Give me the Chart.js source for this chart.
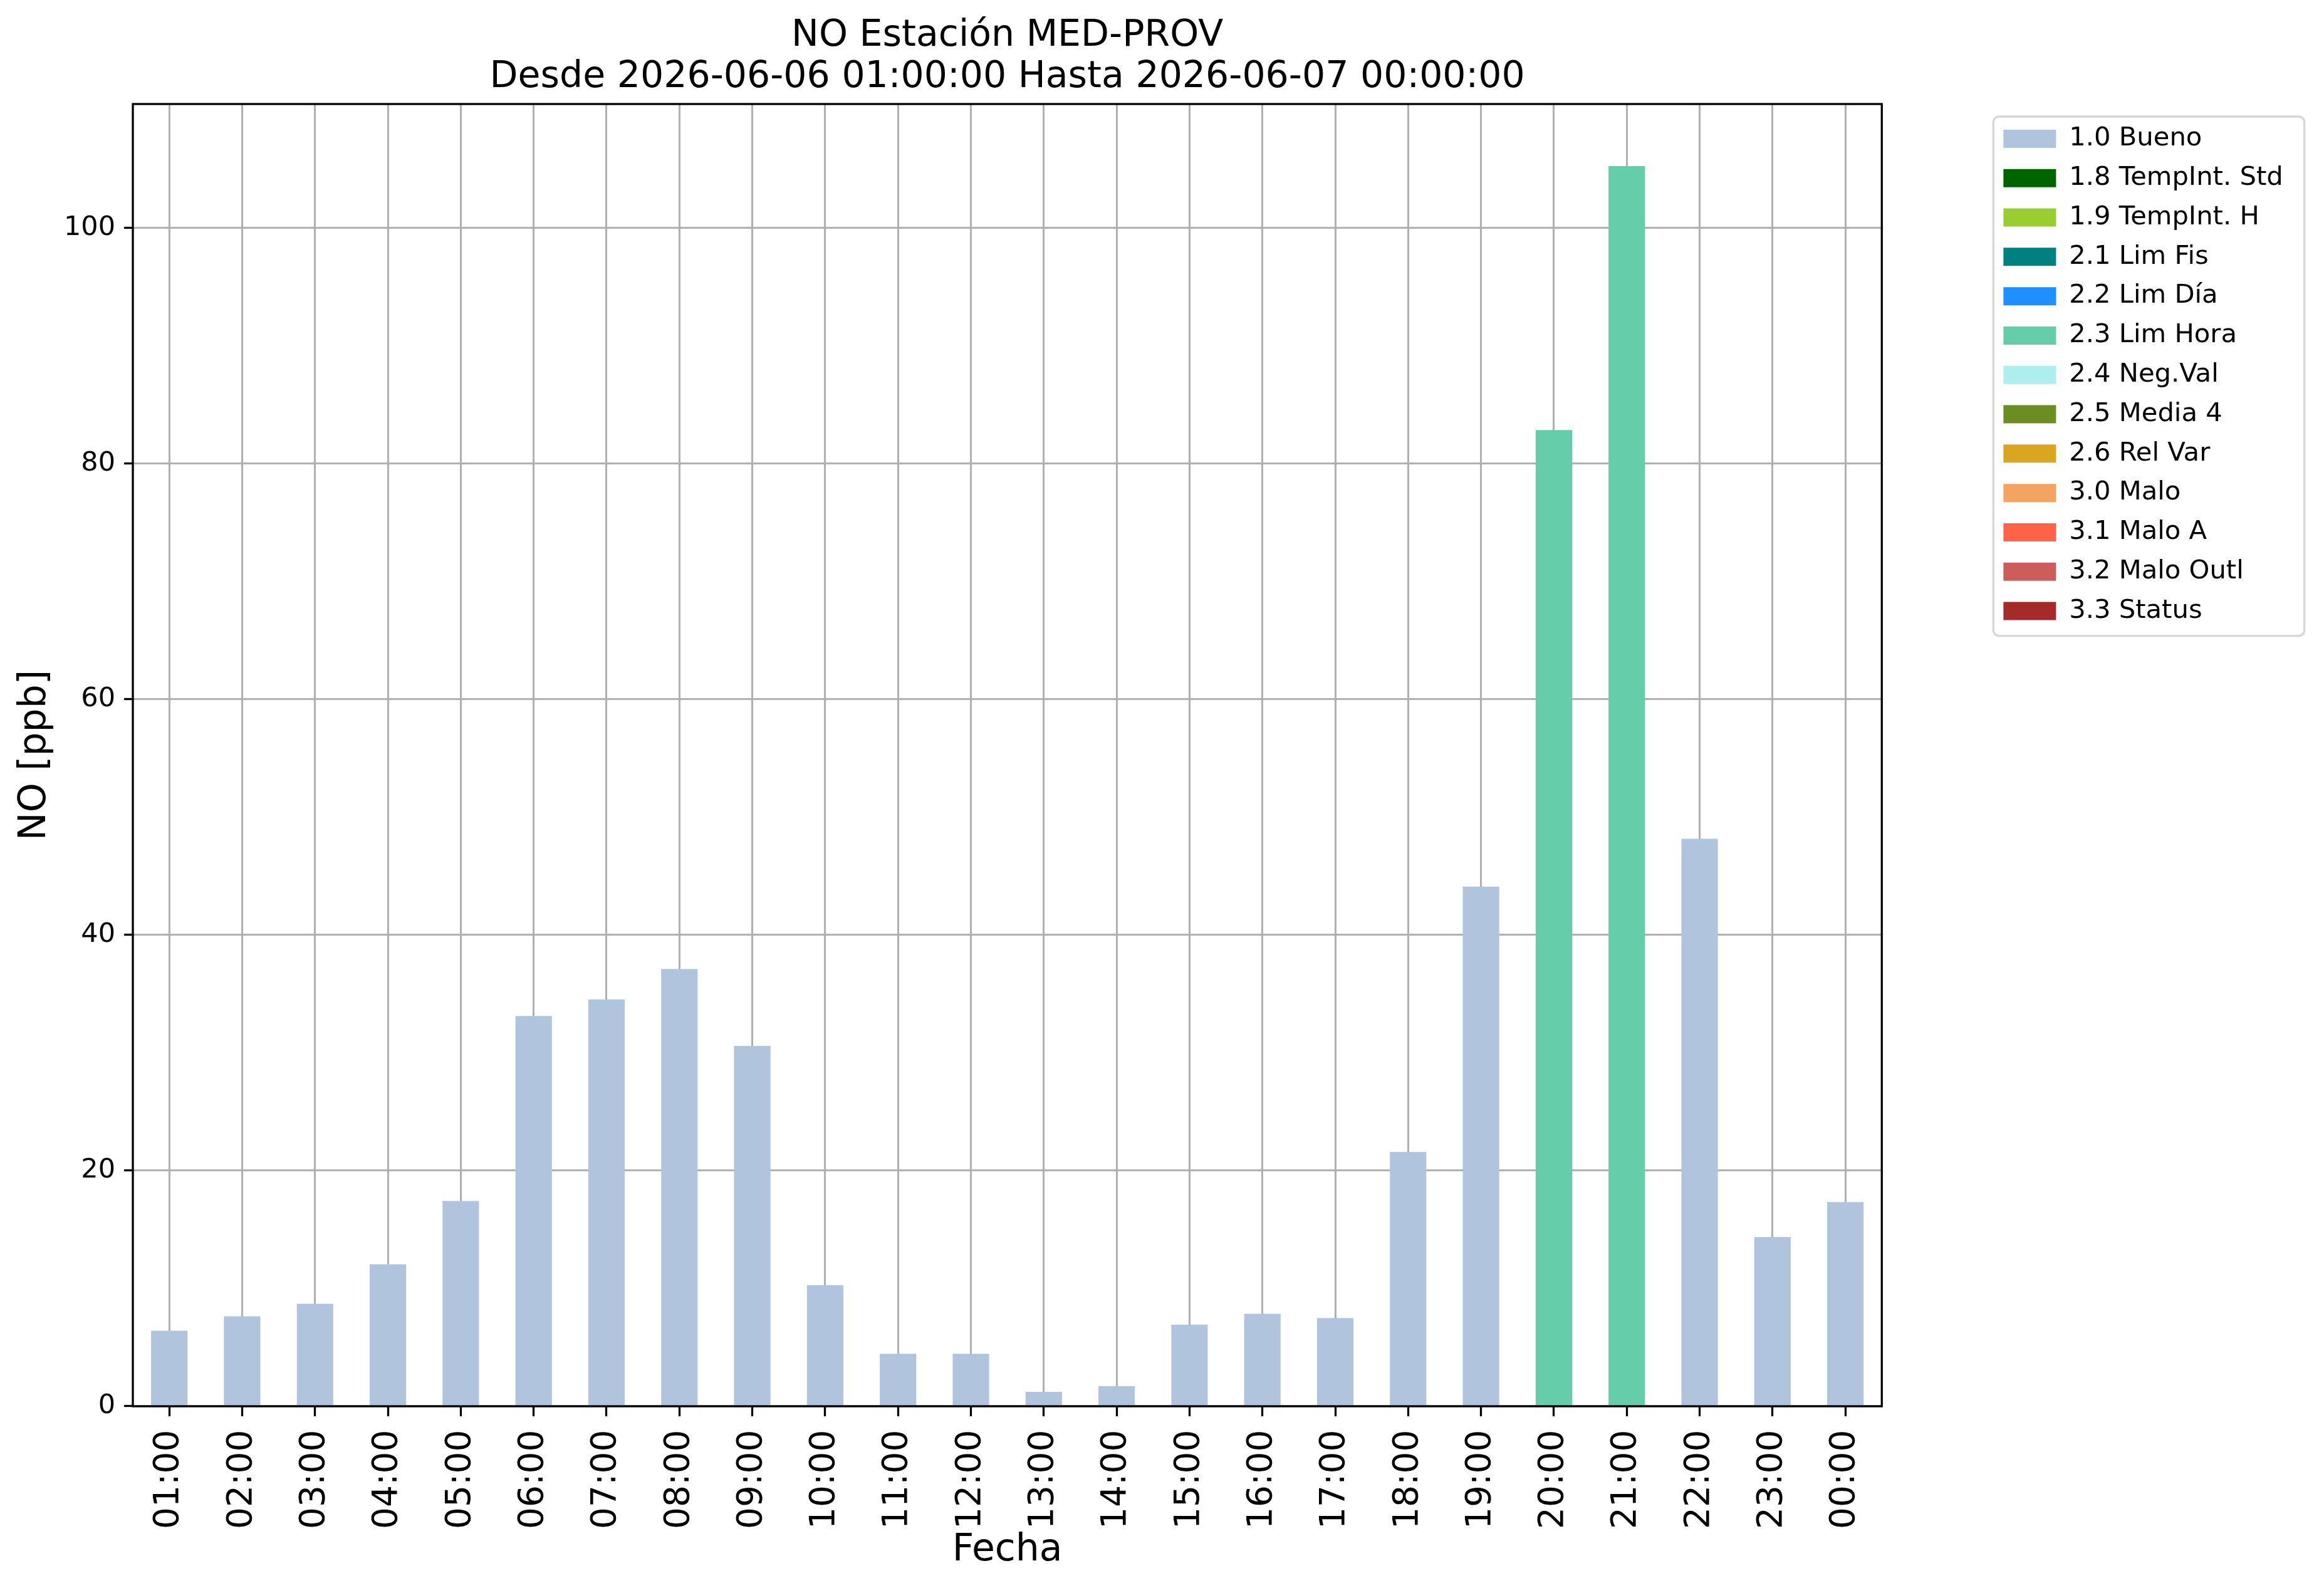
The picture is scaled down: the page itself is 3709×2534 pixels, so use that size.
<!DOCTYPE html>
<html>
<head>
<meta charset="utf-8">
<title>NO Estación MED-PROV</title>
<script src="https://cdn.jsdelivr.net/npm/chart.js@4.4.1/dist/chart.umd.min.js"></script>
<style>
  html, body { margin: 0; padding: 0; background: #fff; }
  #chart-container { width: 3709px; height: 2534px; }
</style>
</head>
<body>
<div id="chart-container">
  <canvas id="myChart"></canvas>
</div>
<script>
// hours shown on the x axis
const hours = ['01:00', '02:00', '03:00', '04:00', '05:00', '06:00', '07:00', '08:00',
  '09:00', '10:00', '11:00', '12:00', '13:00', '14:00', '15:00', '16:00',
  '17:00', '18:00', '19:00', '20:00', '21:00', '22:00', '23:00', '00:00'];

// NO [ppb] per hour
const noValues = [6.41, 7.63, 8.70, 12.04, 17.41, 33.11, 34.52, 37.11,
  30.58, 10.28, 4.45, 4.45, 1.22, 1.70, 6.92, 7.85,
  7.48, 21.58, 44.09, 82.83, 105.23, 48.15, 14.36, 17.32];

// quality flag of each hour
const hourFlags = ['1.0', '1.0', '1.0', '1.0', '1.0', '1.0', '1.0', '1.0',
  '1.0', '1.0', '1.0', '1.0', '1.0', '1.0', '1.0', '1.0',
  '1.0', '1.0', '1.0', '2.3', '2.3', '1.0', '1.0', '1.0'];

// legend: flag codes, names and colours
const flagCodes = ['1.0', '1.8', '1.9', '2.1', '2.2', '2.3', '2.4', '2.5', '2.6', '3.0', '3.1', '3.2', '3.3'];
const flagNames = ['Bueno', 'TempInt. Std', 'TempInt. H', 'Lim Fis', 'Lim Día', 'Lim Hora',
  'Neg.Val', 'Media 4', 'Rel Var', 'Malo', 'Malo A', 'Malo Outl', 'Status'];
const flagColors = ['#b0c4de', '#006400', '#9acd32', '#008080', '#1e90ff', '#66cdaa',
  '#afeeee', '#6b8e23', '#daa520', '#f4a460', '#ff6347', '#cd5c5c', '#a52a2a'];

const yTicks = [0, 20, 40, 60, 80, 100];

const datasets = flagCodes.map((code, i) => ({
  label: code + ' ' + flagNames[i],
  data: noValues.map((v, h) => (hourFlags[h] === code ? v : null)),
  backgroundColor: flagColors[i],
  borderWidth: 0,
  barPercentage: 0.5,
  categoryPercentage: 1.0,
}));

// axes frame (matplotlib style spines on all four sides)
const frame = {
  id: 'frame',
  afterDraw(chart) {
    const { ctx, chartArea: a } = chart;
    ctx.save();
    ctx.strokeStyle = '#000';
    ctx.lineWidth = 3.3;
    ctx.strokeRect(a.left, a.top, a.right - a.left, a.bottom - a.top);
    ctx.restore();
  },
};

// rounded grey border around the legend
const legendFrame = {
  id: 'legendFrame',
  afterDraw(chart) {
    const boxes = chart.legend && chart.legend.legendHitBoxes;
    if (!boxes || !boxes.length) return;
    const first = boxes[0];
    const last = boxes[boxes.length - 1];
    const left = first.left - 16;
    const top = first.top - 14.6;
    const right = Math.max(...boxes.map(b => b.left + b.width)) + 34;
    const bottom = last.top + last.height + 18.7;
    const ctx = chart.ctx;
    ctx.save();
    ctx.strokeStyle = '#d6d6d6';
    ctx.lineWidth = 3.3;
    ctx.beginPath();
    ctx.roundRect(left, top, right - left, bottom - top, 9);
    ctx.stroke();
    ctx.restore();
  },
};

Chart.defaults.font.family = "'DejaVu Sans'";
Chart.defaults.color = '#000';

const ctx = document.getElementById('myChart').getContext('2d');
new Chart(ctx, {
  type: 'bar',
  data: { labels: hours, datasets },
  options: {
    responsive: true,
    maintainAspectRatio: false,
    devicePixelRatio: 1,
    animation: false,
    layout: { padding: { left: 0, right: 55.3, top: 0, bottom: 30 } },
    plugins: {
      title: {
        display: true,
        fullSize: false,
        text: ['NO Estación MED-PROV', 'Desde 2026-06-06 01:00:00 Hasta 2026-06-07 00:00:00'],
        color: '#000',
        font: { size: 58.5, weight: 'normal', lineHeight: 66 / 58.5 },
        padding: { top: 25, bottom: 9 },
      },
      legend: {
        position: 'right',
        align: 'start',
        fullSize: false,
        title: { display: true, text: '', font: { size: 1, lineHeight: 1 }, padding: { top: 12.5, bottom: 0 } },
        labels: {
          boxWidth: 84,
          boxHeight: 29,
          padding: 21.1,
          color: '#000',
          font: { size: 41.7 },
        },
      },
      tooltip: { enabled: false },
    },
    scales: {
      x: {
        stacked: true,
        z: 1,
        grid: {
          offset: false,
          color: '#b0b0b0',
          lineWidth: 3,
          tickColor: '#000',
          tickWidth: 3.3,
          tickLength: 16,
        },
        border: { display: false },
        ticks: {
          autoSkip: false,
          minRotation: 90,
          maxRotation: 90,
          padding: 21.4,
          color: '#000',
          font: { size: 55 },
        },
        title: {
          display: true,
          text: 'Fecha',
          color: '#000',
          font: { size: 60, lineHeight: 1 },
          padding: { top: -17.3, bottom: 0 },
        },
      },
      y: {
        stacked: true,
        z: 1,
        min: 0,
        max: 110.5,
        afterBuildTicks(scale) {
          scale.ticks = yTicks.map(v => ({ value: v }));
        },
        grid: {
          color: '#b0b0b0',
          lineWidth: 3,
          tickColor: '#000',
          tickWidth: 3.3,
          tickLength: 14,
        },
        border: { display: false },
        ticks: {
          padding: 14,
          color: '#000',
          font: { size: 43 },
        },
        title: {
          display: true,
          text: 'NO [ppb]',
          color: '#000',
          font: { size: 60, lineHeight: 1 },
          padding: { top: 26, bottom: 1.95 },
        },
      },
      // empty right-hand axis, only keeps the gap between the plot and the legend
      gap: {
        type: 'linear',
        position: 'right',
        display: true,
        grid: { display: false, drawTicks: false },
        border: { display: false },
        ticks: { display: false },
        title: { display: true, text: '', font: { size: 1, lineHeight: 1 }, padding: { top: 172, bottom: 0 } },
      },
    },
  },
  plugins: [frame, legendFrame],
});
</script>
</body>
</html>
